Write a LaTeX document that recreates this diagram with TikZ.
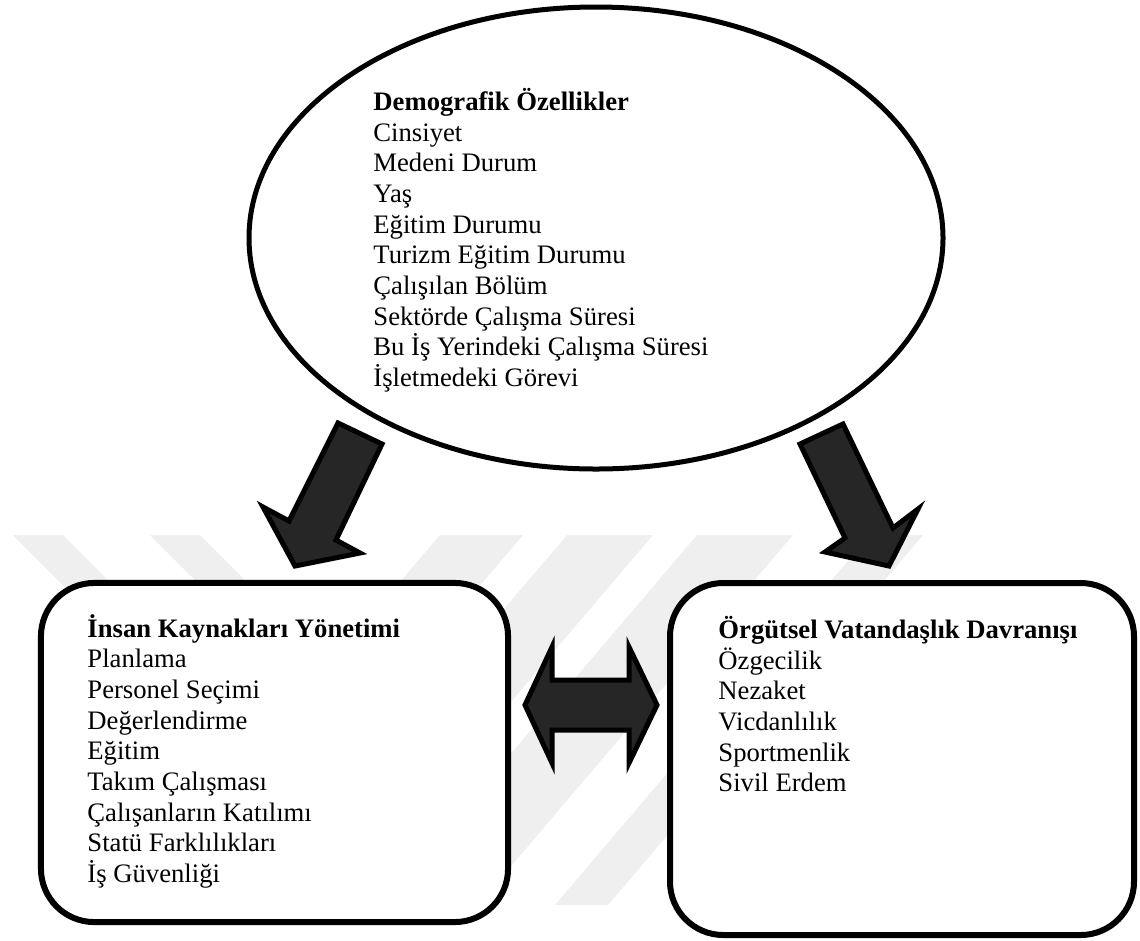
\documentclass[tikz,border=0pt]{standalone}
\usepackage{fontspec}
\setmainfont{Liberation Serif}
\usetikzlibrary{shapes.geometric}

\definecolor{arrowgray}{HTML}{262626}
\definecolor{markgray}{HTML}{EFEFEF}

\tikzset{
	blockarrow/.style={draw=black, line width=2.25pt, fill=arrowgray, line join=miter},
	roundbox/.style={rectangle, draw=black, line width=2.7pt, fill=white, rounded corners=24pt, inner sep=0pt},
	ovalbox/.style={ellipse, draw=black, line width=2.25pt, fill=white, inner sep=0pt},
	itemtext/.style={anchor=north west, inner sep=0pt, align=left, font=\fontsize{12}{13.8}\selectfont},
	markband/.style={fill=markgray, draw=none}
}

\begin{document}
\begin{tikzpicture}[x=0.45pt, y=-0.45pt]
	\useasboundingbox (0,0) rectangle (1140,940);

	% faint background mark
	\begin{scope}
	\clip (0,535) rectangle (1140,905);
	\fill[markband] (13,535) -- (63,535) -- (128,600) -- (78,600) -- cycle;
	\fill[markband] (150,535) -- (200,535) -- (265,600) -- (215,600) -- cycle;
	\fill[markband] (440,535) -- (523,535) -- (208,905) -- (125,905) -- cycle;
	\fill[markband] (567,535) -- (653,535) -- (338,905) -- (252,905) -- cycle;
	\fill[markband] (697,535) -- (793,535) -- (478,905) -- (382,905) -- cycle;
	\fill[markband] (870,535) -- (923,535) -- (608,905) -- (555,905) -- cycle;
	\end{scope}

	% shapes
	\node[ovalbox, minimum width=312.3pt, minimum height=207.9pt] (demo) at (596,238) {};
	\node[roundbox, minimum width=210.2pt, minimum height=152.6pt] (ikv) at (274.5,752.5) {};
	\node[roundbox, minimum width=208.8pt, minimum height=158.4pt] (ovd) at (902,759) {};

	% arrows
	\filldraw[blockarrow] (338,423) -- (382,444) -- (336,540) -- (360,553) -- (295,566)
		-- (263,507) -- (289,521) -- cycle;
	\filldraw[blockarrow] (800,444) -- (843,424) -- (893,528) -- (918,509) -- (889,566)
		-- (825,552) -- (845,538) -- cycle;
	\filldraw[blockarrow] (525,705) -- (552,647) -- (552,680) -- (629,680) -- (629,647)
		-- (657,705) -- (629,763) -- (629,730) -- (552,730) -- (552,763) -- cycle;

	% texts
	\node[itemtext] (demo-list) at (373,88) {\textbf{Demografik Özellikler}\\
		Cinsiyet\\
		Medeni Durum\\
		Yaş\\
		Eğitim Durumu\\
		Turizm Eğitim Durumu\\
		Çalışılan Bölüm\\
		Sektörde Çalışma Süresi\\
		Bu İş Yerindeki Çalışma Süresi\\
		İşletmedeki Görevi};

	\node[itemtext] (ikv-list) at (87,614) {\textbf{İnsan Kaynakları Yönetimi}\\
		Planlama\\
		Personel Seçimi\\
		Değerlendirme\\
		Eğitim\\
		Takım Çalışması\\
		Çalışanların Katılımı\\
		Statü Farklılıkları\\
		İş Güvenliği};

	\node[itemtext] (ovd-list) at (718,616) {\textbf{Örgütsel Vatandaşlık Davranışı}\\
		Özgecilik\\
		Nezaket\\
		Vicdanlılık\\
		Sportmenlik\\
		Sivil Erdem};
\end{tikzpicture}
\end{document}
